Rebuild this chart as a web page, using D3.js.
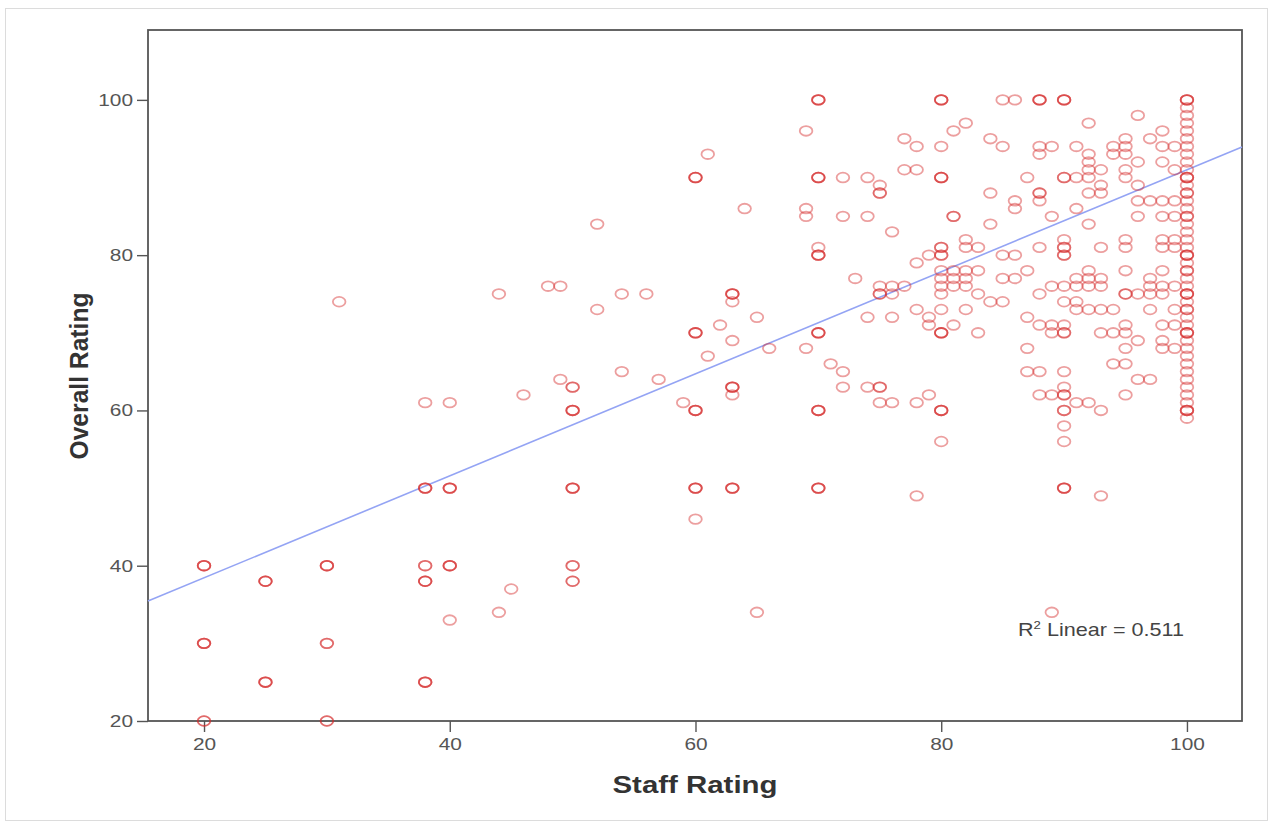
<!DOCTYPE html>
<html>
<head>
<meta charset="utf-8">
<script src="https://cdn.jsdelivr.net/npm/d3@7"></script>
<style>
  body { margin: 0; background: #fff; }
  svg { display: block; }
</style>
</head>
<body>
<div id="chart"></div>
<script>
// Staff rating levels (x) and the overall ratings observed at each level (y)
const staffLevels = [20, 25, 30, 31, 38, 40, 44, 45, 46, 48, 49, 50, 52, 54, 56, 57, 59, 60, 61, 62, 63, 64, 65, 66, 69, 70,
  71, 72, 73, 74, 75, 76, 77, 78, 79, 80, 81, 82, 83, 84, 85, 86, 87, 88, 89, 90, 91, 92, 93, 94, 95, 96, 97, 98, 99, 100];

const overallAtLevel = [
  [40, 40, 40, 30, 30, 30, 20, 20],                       // 20
  [38, 38, 38, 25, 25, 25],                               // 25
  [40, 40, 40, 30, 30, 20, 20],                           // 30
  [74],                                                   // 31
  [61, 50, 50, 50, 40, 40, 38, 38, 38, 25, 25, 25],       // 38
  [61, 50, 50, 50, 40, 40, 40, 33],                       // 40
  [75, 34],                                               // 44
  [37],                                                   // 45
  [62],                                                   // 46
  [76],                                                   // 48
  [76, 64],                                               // 49
  [63, 63, 60, 60, 60, 50, 50, 50, 40, 40, 38, 38],       // 50
  [84, 73],                                               // 52
  [75, 65],                                               // 54
  [75],                                                   // 56
  [64],                                                   // 57
  [61],                                                   // 59
  [90, 90, 90, 70, 70, 70, 60, 60, 60, 50, 50, 50, 46],   // 60
  [93, 67],                                               // 61
  [71],                                                   // 62
  [75, 75, 75, 74, 69, 63, 63, 63, 62, 50, 50, 50],       // 63
  [86],                                                   // 64
  [72, 34],                                               // 65
  [68],                                                   // 66
  [96, 86, 85, 68],                                       // 69
  [100, 100, 100, 90, 90, 90, 81, 80, 80, 80, 70, 70, 70, 60, 60, 60, 50, 50, 50], // 70
  [66],                                                   // 71
  [90, 85, 65, 63],                                       // 72
  [77],                                                   // 73
  [90, 85, 72, 63],                                       // 74
  [89, 88, 88, 76, 75, 75, 63, 63, 61],                   // 75
  [83, 76, 75, 72, 61],                                   // 76
  [95, 91, 76],                                           // 77
  [94, 91, 79, 73, 61, 49],                               // 78
  [80, 72, 71, 62],                                       // 79
  [100, 100, 100, 94, 90, 90, 90, 81, 81, 80, 80, 78, 77, 76, 75, 73, 70, 70, 70, 60, 60, 60, 56], // 80
  [96, 85, 85, 78, 77, 76, 71],                           // 81
  [97, 82, 81, 78, 77, 76, 73],                           // 82
  [81, 78, 75, 70],                                       // 83
  [95, 88, 84, 74],                                       // 84
  [100, 94, 80, 77, 74],                                  // 85
  [100, 87, 86, 80, 77],                                  // 86
  [90, 78, 72, 68, 65],                                   // 87
  [100, 100, 100, 94, 93, 88, 88, 87, 81, 75, 71, 65, 62],// 88
  [94, 85, 76, 71, 70, 62, 34],                           // 89
  [100, 100, 100, 90, 90, 82, 81, 81, 80, 80, 76, 74, 71, 70, 70, 65, 63, 62, 62, 60, 60, 58, 56, 50, 50, 50], // 90
  [94, 90, 86, 77, 76, 74, 73, 61],                       // 91
  [97, 93, 92, 91, 90, 88, 84, 78, 77, 76, 73, 61],       // 92
  [91, 89, 88, 81, 77, 76, 73, 70, 60, 49],               // 93
  [94, 93, 73, 70, 66],                                   // 94
  [95, 94, 93, 91, 90, 82, 81, 78, 75, 75, 71, 70, 68, 66, 62], // 95
  [98, 92, 89, 87, 85, 75, 69, 64],                       // 96
  [95, 87, 77, 76, 75, 73, 64],                           // 97
  [96, 94, 92, 87, 85, 82, 81, 78, 76, 75, 71, 69, 68],   // 98
  [94, 91, 87, 85, 82, 81, 76, 73, 71, 68],               // 99
  [100, 100, 100, 99, 98, 97, 96, 95, 94, 93, 92, 91, 90, 90, 90, 89, 88, 88, 87, 86, 85, 85, 84, 83, 82, 81,
   80, 80, 80, 79, 78, 78, 77, 76, 75, 75, 75, 74, 73, 73, 72, 71, 70, 70, 70, 69, 68, 67, 66, 65, 64, 63,
   62, 61, 60, 60, 60, 59]                                // 100
];

const xTicks = [20, 40, 60, 80, 100];
const yTicks = [20, 40, 60, 80, 100];

// fit line (R² linear = 0.511)
const fitIntercept = 25.3;
const fitSlope = 0.657;
const rSquared = "0.511";

// flat point list
const points = [];
staffLevels.forEach((s, i) => {
    overallAtLevel[i].forEach(o => points.push({staff: s, overall: o}));
});

const width = 1273;
const height = 827;
const margin = {left: 148, top: 30, right: 1242, bottom: 721};
const font = "Liberation Sans, Arial, sans-serif";

const svg = d3.select("#chart")
    .append("svg")
    .attr("width", width)
    .attr("height", height);

// outer frame of the picture
svg.append("rect")
    .attr("x", 5.5).attr("y", 8.5)
    .attr("width", 1262).attr("height", 812)
    .attr("fill", "none")
    .attr("stroke", "#dcdcdc");

const x = d3.scaleLinear()
    .domain([15.44, 104.48])
    .range([margin.left, margin.right]);

const y = d3.scaleLinear()
    .domain([20, 109])
    .range([margin.bottom, margin.top]);

// Achsen
const xAxis = svg.append("g")
    .attr("transform", `translate(0,${margin.bottom})`)
    .call(d3.axisBottom(x).tickValues(xTicks).tickSize(11).tickPadding(6));

const yAxis = svg.append("g")
    .attr("transform", `translate(${margin.left},0)`)
    .call(d3.axisLeft(y).tickValues(yTicks).tickSize(11).tickPadding(4));

// the picture is stretched sideways, so labels get a fixed width per digit
[xAxis, yAxis].forEach(a => {
    a.select(".domain").remove();
    a.selectAll("line").attr("stroke", "#555").attr("stroke-width", 1.4);
    a.selectAll("text")
        .attr("font-family", font)
        .attr("font-size", 17)
        .attr("fill", "#555")
        .attr("textLength", d => String(d).length * 11.6)
        .attr("lengthAdjust", "spacingAndGlyphs");
});

// plot frame
svg.append("rect")
    .attr("x", margin.left).attr("y", margin.top)
    .attr("width", margin.right - margin.left)
    .attr("height", margin.bottom - margin.top)
    .attr("fill", "none")
    .attr("stroke", "#555")
    .attr("stroke-width", 1.8);

// fit line
const plot = svg.append("g");
const xd = x.domain();
plot.append("line")
    .attr("x1", x(xd[0])).attr("y1", y(fitIntercept + fitSlope * xd[0]))
    .attr("x2", x(xd[1])).attr("y2", y(fitIntercept + fitSlope * xd[1]))
    .attr("stroke", "#94a4f4")
    .attr("stroke-width", 1.6);

// markers
plot.selectAll("ellipse")
    .data(points)
    .join("ellipse")
    .attr("cx", d => x(d.staff))
    .attr("cy", d => y(d.overall))
    .attr("rx", 6.3)
    .attr("ry", 4.8)
    .attr("fill", "none")
    .attr("stroke", "#d42a2a")
    .attr("stroke-opacity", 0.45)
    .attr("stroke-width", 1.8);

// R² label
const r2 = svg.append("text")
    .attr("transform", "translate(1018,636) scale(1.2,1)")
    .attr("font-family", font)
    .attr("font-size", 18)
    .attr("fill", "#444");
r2.append("tspan").text("R");
r2.append("tspan").attr("font-size", 11).attr("dy", -7).text("2");
r2.append("tspan").attr("dy", 7).text(" Linear = " + rSquared);

// Achsentitel
svg.append("text")
    .attr("x", 695)
    .attr("y", 793)
    .attr("text-anchor", "middle")
    .attr("font-family", font)
    .attr("font-size", 24)
    .attr("font-weight", "bold")
    .attr("fill", "#333")
    .attr("textLength", 165)
    .attr("lengthAdjust", "spacingAndGlyphs")
    .text("Staff Rating");

svg.append("text")
    .attr("transform", "translate(88,376) rotate(-90)")
    .attr("text-anchor", "middle")
    .attr("font-family", font)
    .attr("font-size", 25)
    .attr("font-weight", "bold")
    .attr("fill", "#333")
    .attr("textLength", 167)
    .attr("lengthAdjust", "spacingAndGlyphs")
    .text("Overall Rating");
</script>
</body>
</html>
